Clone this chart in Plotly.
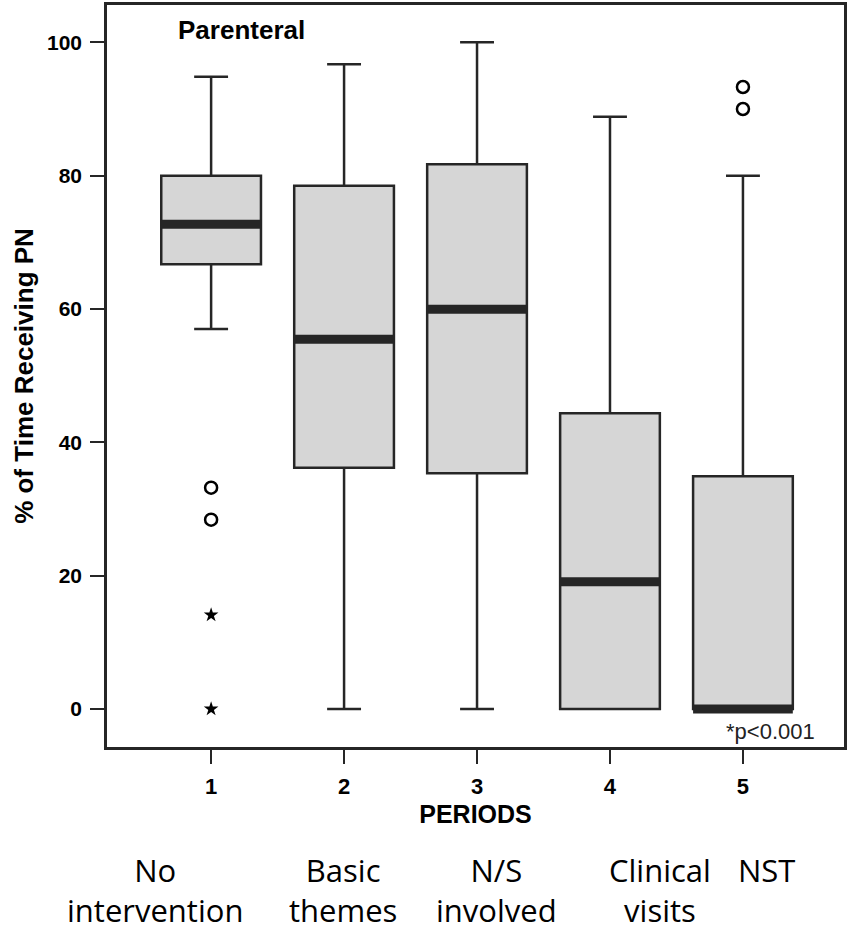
import plotly.graph_objects as go

# ---- data ----
periods = [1, 2, 3, 4, 5]
q1 = [66.7, 36.2, 35.35, 0.0, 0.0]
median = [72.7, 55.45, 59.95, 19.1, 0.0]
q3 = [80.0, 78.5, 81.7, 44.35, 34.9]
lower_whisker = [57.0, 0.0, 0.0, 0.0, 0.0]
upper_whisker = [94.85, 96.7, 100.0, 88.85, 80.0]

outlier_circle_x = [1, 1, 5, 5]
outlier_circle_y = [33.2, 28.4, 93.3, 90.0]
outlier_star_x = [1, 1]
outlier_star_y = [14.1, 0.0]

period_names = ["No<br>intervention", "Basic<br>themes", "N/S<br>involved",
                "Clinical<br>visits", "NST"]
y_ticks = [0, 20, 40, 60, 80, 100]

# ---- style ----
BOX_W = 0.75
DARK = "#262626"
FILL = "#d6d6d6"
name_pos = [0.579, 1.993, 3.144, 4.377, 5.174]
BOLD = "Liberation Sans, Arial, sans-serif"

fig = go.Figure()

fig.add_trace(go.Box(
    x=periods, q1=q1, median=median, q3=q3,
    lowerfence=lower_whisker, upperfence=upper_whisker,
    boxpoints=False, width=BOX_W, whiskerwidth=0.34,
    fillcolor=FILL, line=dict(color=DARK, width=2.5),
    showlegend=False, hoverinfo="skip",
))

# thick median bands
mx, my = [], []
for p, m in zip(periods, median):
    mx += [p - BOX_W / 2, p + BOX_W / 2, None]
    my += [m, m, None]
fig.add_trace(go.Scatter(x=mx, y=my, mode="lines",
                         line=dict(color=DARK, width=9),
                         showlegend=False, hoverinfo="skip"))

fig.add_trace(go.Scatter(x=outlier_circle_x, y=outlier_circle_y, mode="markers",
                         marker=dict(symbol="circle-open", size=12,
                                     line=dict(color="black", width=2.5), color="black"),
                         showlegend=False, hoverinfo="skip"))
fig.add_trace(go.Scatter(x=outlier_star_x, y=outlier_star_y, mode="markers",
                         marker=dict(symbol="star", size=11, color="black"),
                         showlegend=False, hoverinfo="skip"))

annotations = [
    dict(text="<b>Parenteral</b>", x=0.737, y=101.8, xref="x", yref="y",
         xanchor="left", yanchor="middle", showarrow=False,
         font=dict(family=BOLD, size=26, color="black")),
    dict(text="*p<0.001", x=5.56, y=-3.3, xref="x", yref="y",
         xanchor="right", yanchor="middle", showarrow=False,
         font=dict(family=BOLD, size=22, color="#222")),
]
for nm, xp in zip(period_names, name_pos):
    annotations.append(dict(text=nm, x=xp, y=0, xref="x", yref="paper",
                            xanchor="center", yanchor="top", yshift=-100,
                            showarrow=False, align="center",
                            font=dict(family="Open Sans, sans-serif", size=31, color="black")))

fig.update_layout(
    width=848, height=930,
    margin=dict(l=107, r=4, t=5, b=183, autoexpand=False),
    paper_bgcolor="white", plot_bgcolor="white",
    annotations=annotations,
    xaxis=dict(range=[0.217, 5.76], tickvals=periods,
               ticktext=[f"<b>{p}</b>" for p in periods],
               ticks="outside", ticklen=14, tickwidth=2, tickcolor=DARK,
               showline=True, linewidth=2.5, linecolor=DARK, mirror=True,
               showgrid=False, zeroline=False, ticklabelstandoff=4,
               tickfont=dict(family=BOLD, size=22, color="black"),
               title=dict(text="<b>PERIODS</b>", standoff=8,
                          font=dict(family=BOLD, size=25, color="black"))),
    yaxis=dict(range=[-5.7, 105.6], tickvals=y_ticks,
               ticktext=[f"<b>{t}</b>" for t in y_ticks],
               ticks="outside", ticklen=14, tickwidth=2, tickcolor=DARK,
               showline=True, linewidth=2.5, linecolor=DARK, mirror=True,
               showgrid=False, zeroline=False, ticklabelstandoff=4,
               tickfont=dict(family=BOLD, size=21, color="black"),
               title=dict(text="<b>% of Time Receiving PN</b>", standoff=6,
                          font=dict(family=BOLD, size=26, color="black"))),
)

fig.write_html("out.html")
